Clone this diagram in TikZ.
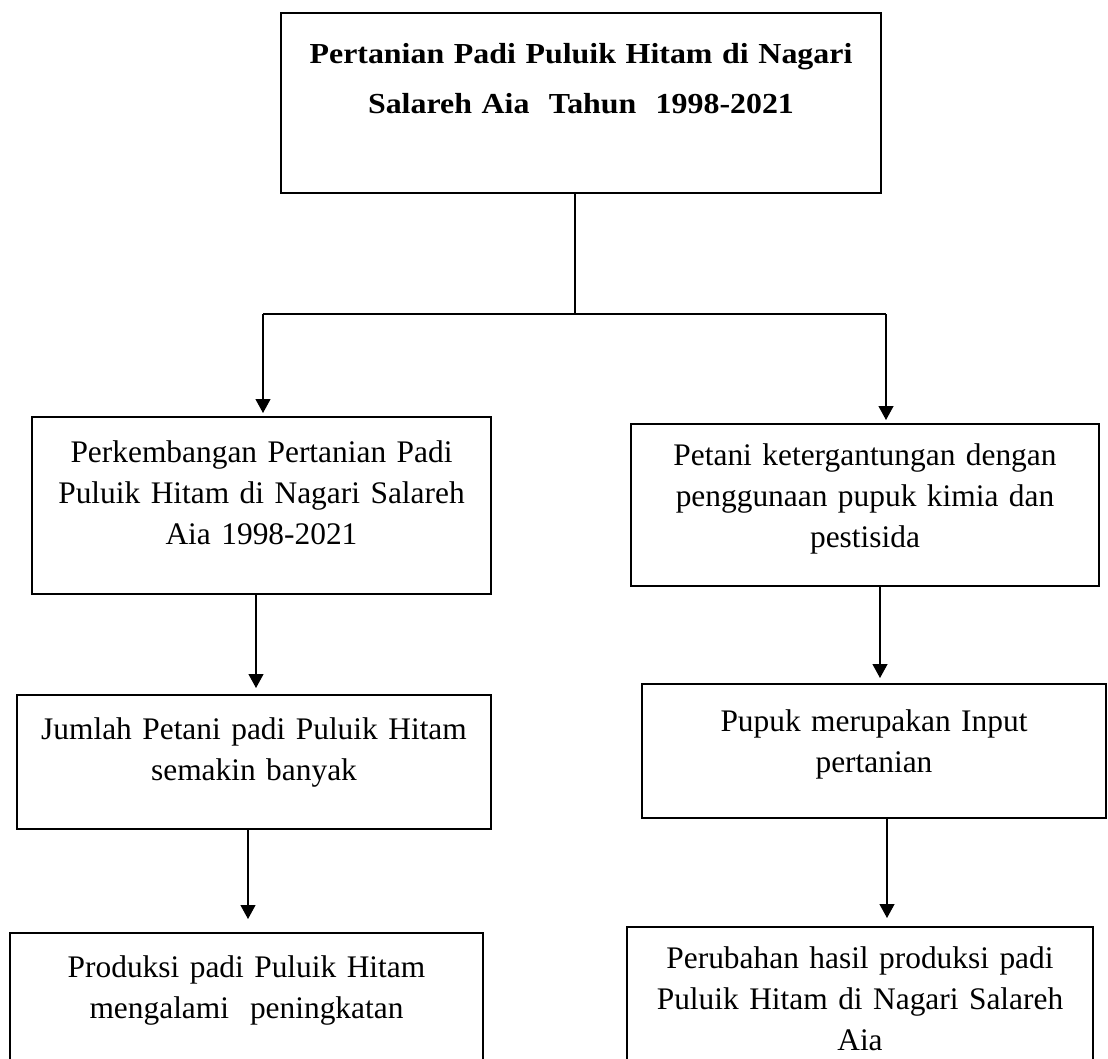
\documentclass[tikz,border=0pt]{standalone}
\usepackage{fontspec}
\setmainfont{Liberation Serif}
\newfontfamily\judulfont[FakeStretch=1.1]{Liberation Serif}
\usetikzlibrary{arrows.meta}

\begin{document}
\begin{tikzpicture}[x=0.5pt, y=-0.5pt,
  kotak/.style={draw, line width=1.1pt, inner sep=0pt, align=center, anchor=north, font=\fontsize{15.7}{20.5}\selectfont},
  garis/.style={line width=1pt},
  panah/.style={line width=0.6pt, -{Triangle[length=7pt, width=7.5pt]}}]
	\useasboundingbox (0,0) rectangle (1108,1059);
	\clip (0,0) rectangle (1108,1059);
	\node[kotak, text width=300pt, text height=25pt, text depth=65pt, font=\judulfont\bfseries\fontsize{14.5}{25}\selectfont] (judul) at (581,12) {Pertanian Padi Puluik Hitam di Nagari\\ Salareh Aia\ \ Tahun\ \ 1998-2021};
	\node[kotak, text width=229.5pt, text height=22.5pt, text depth=66pt] (kembang) at (261.5,416) {Perkembangan Pertanian Padi\\ Puluik Hitam di Nagari Salareh\\ Aia 1998-2021};
	\node[kotak, text width=237pt, text height=22pt, text depth=45pt] (jumlah) at (254,694) {Jumlah Petani padi Puluik Hitam\\ semakin banyak};
	\node[kotak, text width=236.5pt, text height=22pt, text depth=75pt] (produksi) at (246.5,932) {Produksi padi Puluik Hitam\\ mengalami\ \ peningkatan};
	\node[kotak, text width=234pt, text height=20.5pt, text depth=60.5pt] (petani) at (865,423) {Petani ketergantungan dengan\\ penggunaan pupuk kimia dan\\ pestisida};
	\node[kotak, text width=232pt, text height=23.5pt, text depth=43.5pt] (pupuk) at (874,683) {Pupuk merupakan Input\\ pertanian};
	\node[kotak, text width=233pt, text height=20.5pt, text depth=75pt] (perubahan) at (860,926) {Perubahan hasil produksi padi\\ Puluik Hitam di Nagari Salareh\\ Aia};
	\coordinate (cabang) at (575,314);
	\coordinate (kiri) at (263,314);
	\coordinate (kanan) at (886,314);
	\coordinate (a1) at ([xshift=-2.75pt]kembang.south);
	\coordinate (a2) at ([xshift=-3pt]jumlah.south);
	\coordinate (a3) at ([xshift=7.5pt]petani.south);
	\coordinate (a4) at ([xshift=6.5pt]pupuk.south);
	\draw[garis] (judul.south -| cabang) -- (cabang);
	\draw[garis] (kiri) -- (kanan);
	\draw[panah, shorten >=1.5pt] (kiri) -- (kiri |- kembang.north);
	\draw[panah, shorten >=1.5pt] (kanan) -- (kanan |- petani.north);
	\draw[panah, shorten >=3pt] (a1) -- (a1 |- jumlah.north);
	\draw[panah, shorten >=6.5pt] (a2) -- (a2 |- produksi.north);
	\draw[panah, shorten >=2.5pt] (a3) -- (a3 |- pupuk.north);
	\draw[panah, shorten >=4pt] (a4) -- (a4 |- perubahan.north);
\end{tikzpicture}
\end{document}
